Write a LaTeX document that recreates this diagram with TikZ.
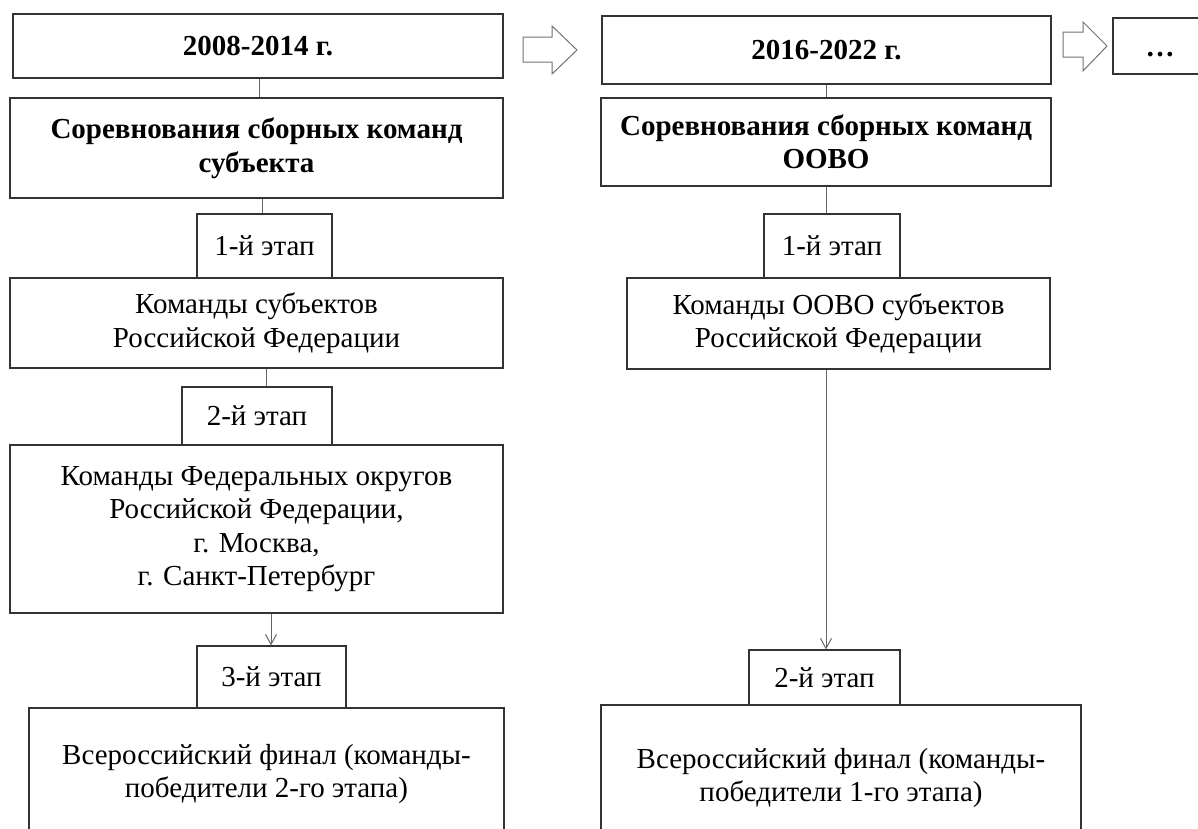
\documentclass[tikz,border=0pt]{standalone}
\usepackage{fontspec}
\setmainfont{Liberation Serif}
\usetikzlibrary{arrows.meta}
\begin{document}
\begin{tikzpicture}[x=1pt,y=-1pt,
  box/.style={draw=black!80, line width=1.2pt, fill=white, inner sep=0pt, align=center,
    font=\fontsize{29}{33.5}\selectfont},
  bbox/.style={box, font=\bfseries\fontsize{29}{33.5}\selectfont},
  conn/.style={draw=black!60, line width=1pt},
  arr/.style={conn, -{Straight Barb[length=10pt,width=11pt]}},
  blockarrow/.style={draw=black!55, line width=1pt, fill=white}]
\useasboundingbox (0,0) rectangle (1198,828);
\clip (0,0) rectangle (1198,828);
\fill[white] (0,0) rectangle (1198,828);

% left column
\node[bbox, minimum width=490, minimum height=64] (A) at (258,46) {2008-2014 г.};
\node[bbox, minimum width=493, minimum height=100] (B) at (256.5,148) {Соревнования сборных команд\\субъекта};
\node[box, minimum width=493, minimum height=90] (C) at (256.5,323) {Команды субъектов\\Российской Федерации};
\node[box, minimum width=135, minimum height=64] (S1) at (264.5,246) {1-й этап};
\node[box, minimum width=493, minimum height=168] (D) at (256.5,529) {Команды Федеральных округов\\Российской Федерации,\\г. Москва,\\г. Санкт-Петербург};
\node[box, minimum width=150, minimum height=58] (S2) at (257,416) {2-й этап};
\node[box, minimum width=475, minimum height=132] (E) at (266.5,774) {Всероссийский финал (команды-\\победители 2-го этапа)};
\node[box, minimum width=149, minimum height=62] (S3) at (271.5,677) {3-й этап};

% right column
\node[bbox, minimum width=449, minimum height=68] (A2) at (826.5,50) {2016-2022 г.};
\node[bbox, minimum width=450, minimum height=88] (B2) at (826,142) {Соревнования сборных команд\\ООВО};
\node[box, minimum width=423, minimum height=91] (C2) at (838.5,323.5) {Команды ООВО субъектов\\Российской Федерации};
\node[box, minimum width=136, minimum height=64] (T1) at (832,246) {1-й этап};
\node[box, minimum width=480, minimum height=146] (F) at (841,778) {Всероссийский финал (команды-\\победители 1-го этапа)};
\node[box, minimum width=151, minimum height=55] (T2) at (824.5,677.5) {2-й этап};
\node[bbox, minimum width=94, minimum height=56, text height=20pt, text depth=0pt] (G) at (1160,46) {…};

% connector x positions
\coordinate (x1) at (259,0);
\coordinate (x2) at (262,0);
\coordinate (x3) at (266,0);
\coordinate (x4) at (271,0);
\coordinate (x5) at (826,0);

\draw[conn] (A.south -| x1) -- (B.north -| x1);
\draw[conn] (B.south -| x2) -- (S1.north -| x2);
\draw[conn] (C.south -| x3) -- (S2.north -| x3);
\draw[arr] (D.south -| x4) -- (S3.north -| x4);
\draw[conn] (A2.south -| x5) -- (B2.north -| x5);
\draw[conn] (B2.south -| x5) -- (T1.north -| x5);
\draw[arr] (C2.south -| x5) -- (T2.north -| x5);

% block arrows
\draw[blockarrow] (523,37) -- (552,37) -- (552,26) -- (577,50) -- (552,74) -- (552,62) -- (523,62) -- cycle;
\draw[blockarrow] (1063,32) -- (1083,32) -- (1083,22) -- (1107,46) -- (1083,71) -- (1083,57) -- (1063,57) -- cycle;
\end{tikzpicture}
\end{document}
